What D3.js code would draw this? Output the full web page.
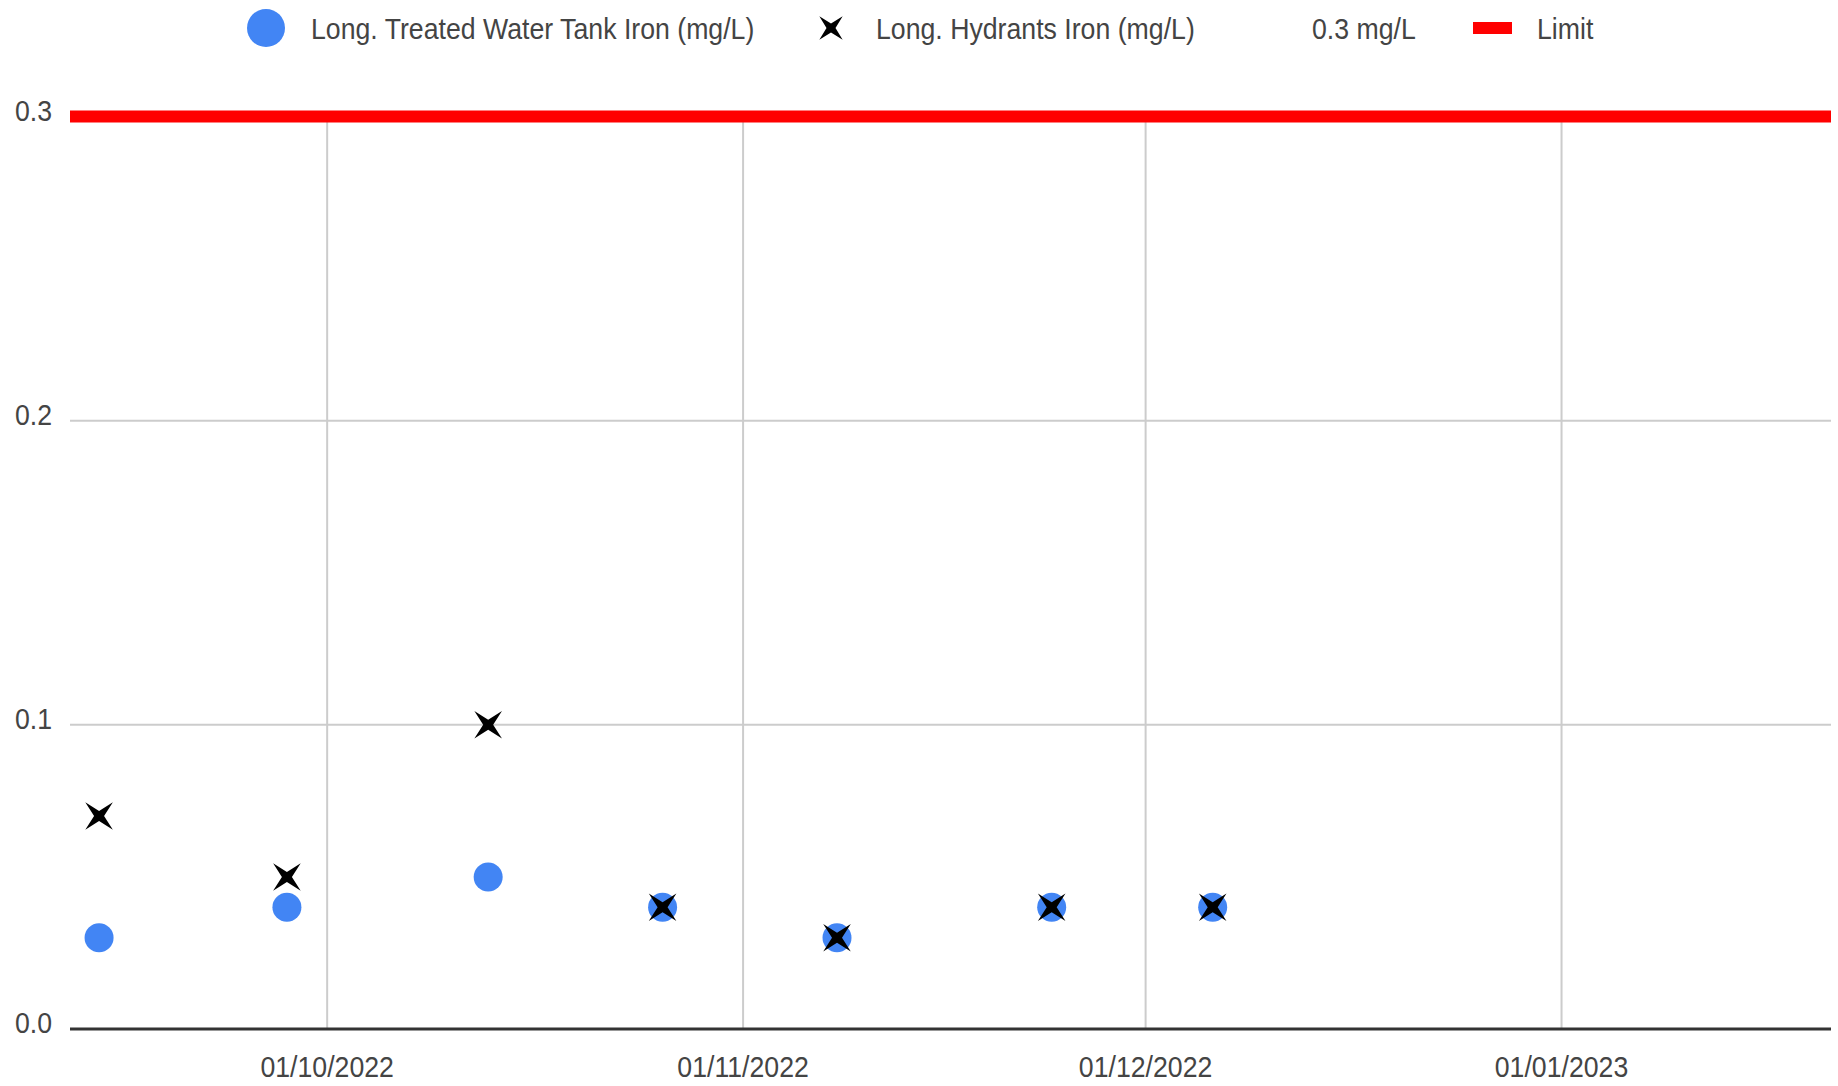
<!DOCTYPE html>
<html>
<head>
<meta charset="utf-8">
<script src="https://cdn.jsdelivr.net/npm/d3@7"></script>
<style>
  html, body { margin: 0; padding: 0; background: #fff; }
  svg { display: block; }
  text { font-family: "Liberation Sans", Arial, sans-serif; fill: #444; }
</style>
</head>
<body>
<svg id="chart" width="1838" height="1086"></svg>
<script>
// ---- data ----
const sampleDates = ["2022-09-14", "2022-09-28", "2022-10-13", "2022-10-26", "2022-11-08", "2022-11-24", "2022-12-06"];
const tankIron = [0.03, 0.04, 0.05, 0.04, 0.03, 0.04, 0.04];
const hydrantsIron = [0.07, 0.05, 0.10, 0.04, 0.03, 0.04, 0.04];
const limitValue = 0.3;
const xTickDates = ["2022-10-01", "2022-11-01", "2022-12-01", "2023-01-01"];
const xTickLabels = ["01/10/2022", "01/11/2022", "01/12/2022", "01/01/2023"];
const yTicks = [0.0, 0.1, 0.2, 0.3];
const legendLabels = ["Long. Treated Water Tank Iron (mg/L)", "Long. Hydrants Iron (mg/L)", "0.3 mg/L", "Limit"];

const parse = d3.utcParse("%Y-%m-%d");
const svg = d3.select("#chart");
const plotLeft = 70, plotRight = 1831, plotTop = 116.5, plotBottom = 1029;
const FS = 29, SX = 0.92;

const x = d3.scaleUtc()
  .domain([Date.UTC(2022, 8, 11, 20), Date.UTC(2023, 0, 21, 2)])
  .range([plotLeft, plotRight]);
const y = d3.scaleLinear().domain([0, 0.3]).range([plotBottom, plotTop]);

function label(g, tx, ty, str, anchor) {
  return g.append("text")
    .attr("transform", `translate(${tx},${ty}) scale(${SX},1)`)
    .attr("text-anchor", anchor || "start")
    .attr("font-size", FS)
    .text(str);
}

// gridlines
const grid = svg.append("g");
grid.selectAll("line.h").data(yTicks.filter(d => d > 0)).join("line")
  .attr("x1", plotLeft).attr("x2", plotRight)
  .attr("y1", d => y(d)).attr("y2", d => y(d))
  .attr("stroke", "#cccccc").attr("stroke-width", 2);
grid.selectAll("line.v").data(xTickDates).join("line")
  .attr("x1", d => x(parse(d))).attr("x2", d => x(parse(d)))
  .attr("y1", plotTop).attr("y2", plotBottom)
  .attr("stroke", "#cccccc").attr("stroke-width", 2);

// y labels
const yl = svg.append("g");
yTicks.forEach(t => label(yl, 52, y(t) + 4, d3.format(".1f")(t), "end"));

// x labels
const xl = svg.append("g");
xTickDates.forEach((d, i) => label(xl, x(parse(d)), 1077, xTickLabels[i], "middle"));

// limit line
svg.append("line")
  .attr("x1", plotLeft).attr("x2", plotRight)
  .attr("y1", y(limitValue)).attr("y2", y(limitValue))
  .attr("stroke", "#ff0000").attr("stroke-width", 12);

// baseline
svg.append("line")
  .attr("x1", plotLeft).attr("x2", plotRight)
  .attr("y1", y(0)).attr("y2", y(0))
  .attr("stroke", "#333333").attr("stroke-width", 3);

// star (X) marker path
function starPath(R, r) {
  const pts = [];
  for (let i = 0; i < 8; i++) {
    const a = Math.PI / 4 + i * Math.PI / 4;
    const rad = i % 2 === 0 ? R : r;
    pts.push([Math.cos(a) * rad, Math.sin(a) * rad]);
  }
  return "M" + pts.map(p => p[0].toFixed(2) + "," + p[1].toFixed(2)).join("L") + "Z";
}

// tank circles
svg.append("g").selectAll("circle").data(sampleDates).join("circle")
  .attr("cx", d => x(parse(d)))
  .attr("cy", (d, i) => y(tankIron[i]))
  .attr("r", 14.5)
  .attr("fill", "#4285f4");

// hydrant X markers
svg.append("g").selectAll("path").data(sampleDates).join("path")
  .attr("transform", (d, i) => `translate(${x(parse(d))},${y(hydrantsIron[i])})`)
  .attr("d", starPath(19.5, 5))
  .attr("fill", "#000");

// legend
const lg = svg.append("g");
lg.append("circle").attr("cx", 266).attr("cy", 28).attr("r", 19).attr("fill", "#4285f4");
label(lg, 311, 39, legendLabels[0]);
lg.append("path").attr("transform", "translate(831,28)").attr("d", starPath(16.5, 4.5)).attr("fill", "#000");
label(lg, 876, 39, legendLabels[1]);
label(lg, 1312, 39, legendLabels[2]);
lg.append("rect").attr("x", 1473).attr("y", 22).attr("width", 39).attr("height", 12).attr("fill", "#ff0000");
label(lg, 1537, 39, legendLabels[3]);
</script>
</body>
</html>
